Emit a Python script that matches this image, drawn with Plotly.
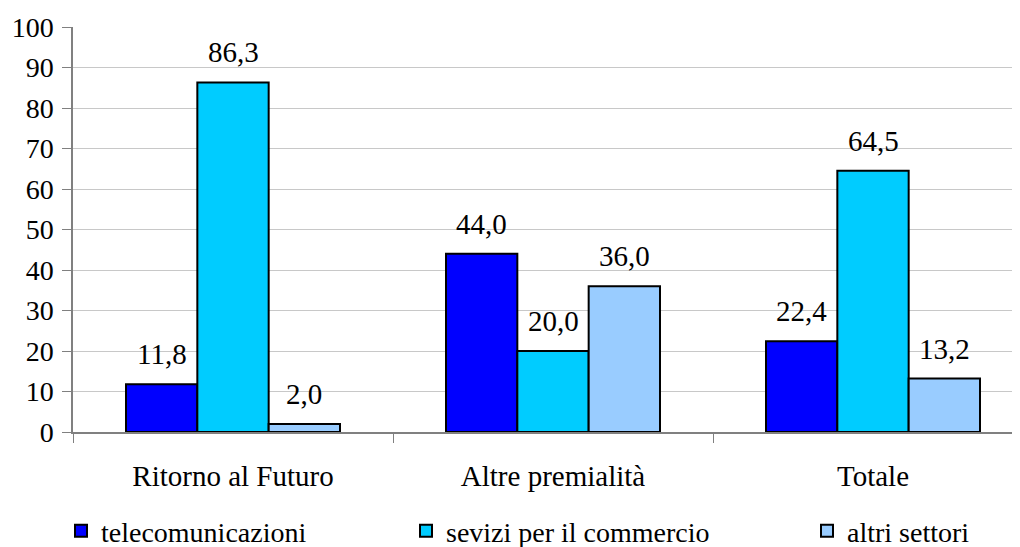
import plotly.graph_objects as go

categories = ["Ritorno al Futuro", "Altre premialità", "Totale"]
series_names = ["telecomunicazioni", "sevizi per il commercio", "altri settori"]
telecom = [11.8, 44.0, 22.4]
servizi = [86.3, 20.0, 64.5]
altri = [2.0, 36.0, 13.2]
colors = ["#0000FF", "#00CCFF", "#99CCFF"]
y_ticks = list(range(0, 101, 10))

# page body has an 8px margin, so the figure is offset by (8, 8)
OFF = 8
W, H = 1020 - OFF, 547 - OFF
ML, MR, MT, MB = 73 - OFF, 8, 27 - OFF, 115
CAT_PX = 320  # width of one category slot in pixels
BARGAP = 1 - 214 / CAT_PX
FONT = "Liberation Serif"
FS = 29
FS_TICK = 28
FS_LEG = 28

plot_w = W - ML - MR
x_span = plot_w / CAT_PX
bar_px = CAT_PX * (1 - BARGAP) / 3

fig = go.Figure()
all_series = [telecom, servizi, altri]
legend_ids = ["legend", "legend2", "legend3"]
for i, (name, vals) in enumerate(zip(series_names, all_series)):
    fig.add_trace(go.Bar(
        x=categories, y=vals, name=name, showlegend=True,
        marker=dict(color=colors[i], line=dict(color="black", width=2)),
        legend=legend_ids[i],
    ))
    for c, v in zip(categories, vals):
        fig.add_annotation(
            x=c, y=v, xref="x", yref="y",
            text=f"{v:.1f}".replace(".", ","),
            showarrow=False, yanchor="bottom",
            xshift=(i - 1) * bar_px, yshift=12,
            font=dict(family=FONT, size=FS, color="black"),
        )

legend_common = dict(orientation="h", yref="container", yanchor="middle",
                      y=1 - (531 - OFF) / H,
                      xref="container", xanchor="left",
                      font=dict(family=FONT, size=FS_LEG, color="black"),
                      bgcolor="rgba(0,0,0,0)", itemwidth=30)
lx = [(61 - OFF) / W, (406 - OFF) / W, (807 - OFF) / W]
fig.update_layout(
    width=W, height=H,
    margin=dict(l=ML, r=MR, t=MT, b=MB, autoexpand=False),
    paper_bgcolor="white", plot_bgcolor="white",
    showlegend=True,
    barmode="group", bargap=BARGAP, bargroupgap=0,
    font=dict(family=FONT, size=FS, color="black"),
    legend=dict(x=lx[0], **legend_common),
    legend2=dict(x=lx[1], **legend_common),
    legend3=dict(x=lx[2], **legend_common),
    xaxis=dict(
        automargin=False,
        range=[-0.5, -0.5 + x_span],
        showline=True, linecolor="#808080", linewidth=1.5,
        ticks="outside", tickson="boundaries", ticklen=9, tickcolor="#808080",
        showgrid=False, ticklabelstandoff=17,
        tickfont=dict(family=FONT, size=FS, color="black"),
    ),
    yaxis=dict(
        automargin=False,
        range=[0, 100], tickvals=y_ticks,
        showline=True, linecolor="#808080", linewidth=1.5,
        ticks="outside", ticklen=9, tickcolor="#808080",
        showgrid=True, gridcolor="#C8C8C8", gridwidth=1,
        zeroline=False, ticklabelstandoff=3,
        tickfont=dict(family=FONT, size=FS_TICK, color="black"),
    ),
)

fig.write_html("out.html")
